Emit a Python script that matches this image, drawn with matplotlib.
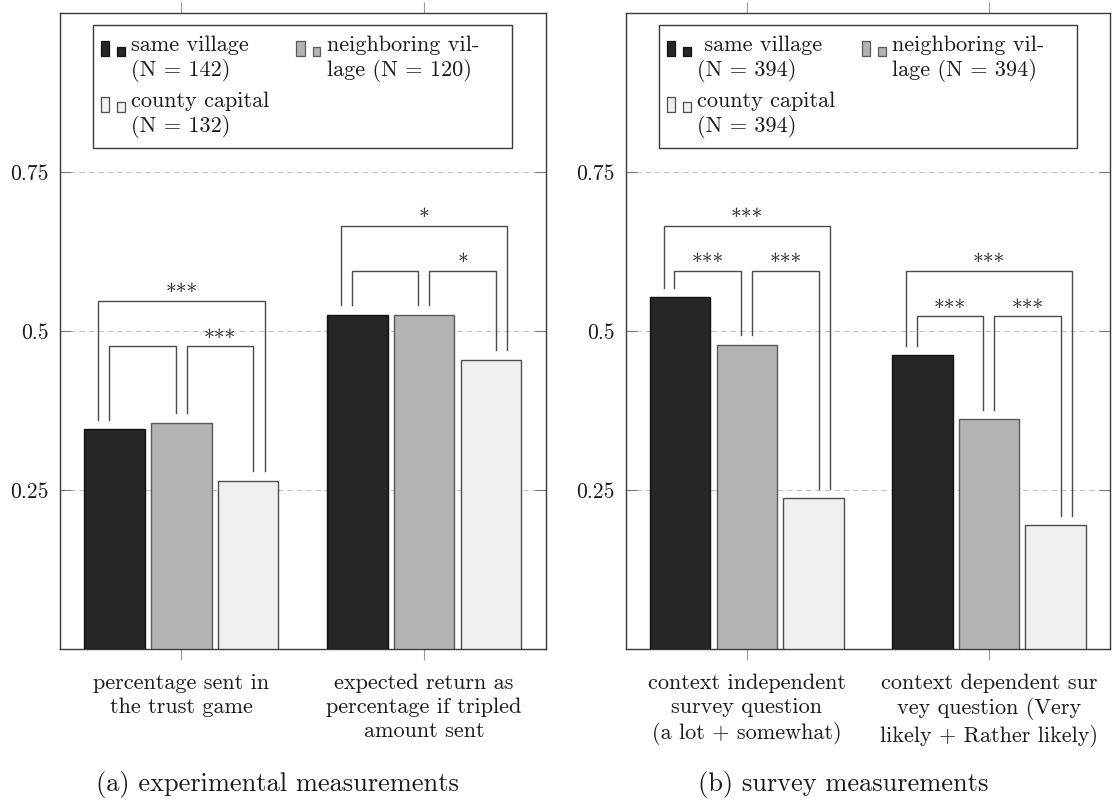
import numpy as np
import matplotlib
matplotlib.use("Agg")
import matplotlib.pyplot as plt
from matplotlib.patches import Rectangle

plt.rcParams['font.family'] = ['cmr10']
plt.rcParams['mathtext.fontset'] = 'cm'
plt.rcParams['axes.formatter.use_mathtext'] = True

# ---- data ----
colors = ["#262626", "#b3b3b3", "#f0f0f0"]
edges = ["#111111", "#5a5a5a", "#4d4d4d"]

labels_a = ["same village\n(N = 142)", "neighboring vil-\nlage (N = 120)", "county capital\n(N = 132)"]
labels_b = [" same village\n(N = 394)", "neighboring vil-\nlage (N = 394)", "county capital\n(N = 394)"]

groups_a = ["percentage sent in\nthe trust game",
            "expected return as\npercentage if tripled\namount sent"]
groups_b = ["context independent\nsurvey question\n(a lot + somewhat)",
            "context dependent sur\nvey question (Very\nlikely + Rather likely)"]

# one list per series (same village, neighboring village, county capital)
same_a = [0.345, 0.5245]
neigh_a = [0.355, 0.5245]
county_a = [0.264, 0.454]
same_b = [0.552, 0.461]
neigh_b = [0.4775, 0.3605]
county_b = [0.236, 0.1935]

# significance brackets: (group, bar i, bar j, level, stars)
brackets_a = [(0, 0, 2, 0.5465, "***"), (0, 0, 1, 0.475, ""), (0, 1, 2, 0.475, "***"),
              (1, 0, 2, 0.665, "*"), (1, 0, 1, 0.594, ""), (1, 1, 2, 0.594, "*")]
brackets_b = [(0, 0, 2, 0.665, "***"), (0, 0, 1, 0.594, "***"), (0, 1, 2, 0.594, "***"),
              (1, 0, 2, 0.594, "***"), (1, 0, 1, 0.5225, "***"), (1, 1, 2, 0.5225, "***")]

yticks = [0.25, 0.5, 0.75]
ytick_labels = ["0.25", "0.5", "0.75"]
captions = ["(a) experimental measurements", "(b) survey measurements"]

offsets = [-0.275, 0.0, 0.275]
width = 0.25
txt = "#1a1a1a"


def draw_panel(ax, values, groups, labels, brackets):
    x = np.arange(len(groups))
    for k, vals in enumerate(values):
        ax.bar(x + offsets[k], vals, width, color=colors[k], edgecolor=edges[k],
               linewidth=1.0, zorder=3)
    ax.set_xlim(-0.5, 1.5)
    ax.set_ylim(0, 1.0)
    ax.set_xticks(x)
    ax.set_xticklabels(groups, fontsize=16, color=txt, linespacing=1.3)
    ax.set_yticks(yticks)
    ax.set_yticklabels(ytick_labels, fontsize=15.5, color=txt)
    ax.tick_params(axis='x', direction='out', length=8, width=0.8, color='#9a9a9a',
                   top=True, bottom=True, pad=9)
    ax.tick_params(axis='y', direction='in', length=8, width=0.8, color='#7a7a7a',
                   left=True, right=True, pad=8)
    ax.grid(axis='y', color='#c4c4c4', linestyle=(0, (5, 3.5)), linewidth=0.8, zorder=0)
    for s in ax.spines.values():
        s.set_color('#3a3a3a')
        s.set_linewidth(1.0)

    # significance brackets
    for g, i, j, level, stars in brackets:
        ci = g + offsets[i]
        cj = g + offsets[j]
        if j - i == 2:
            xl, xr = ci - 0.068, cj + 0.068
        elif i == 0:
            xl, xr = ci - 0.024, cj - 0.024
        else:
            xl, xr = ci + 0.022, cj + 0.022
        yl = values[i][g] + 0.015
        yr = values[j][g] + 0.015
        ax.plot([xl, xl, xr, xr], [yl, level, level, yr], color='#4a4a4a',
                linewidth=1.0, zorder=4, solid_joinstyle='miter')
        if stars:
            ax.text((xl + xr) / 2, level + 0.004, stars, ha='center', va='baseline',
                    fontsize=15.5, color=txt)

    # legend: frame, two-bar handles, labels
    ax.add_patch(Rectangle((0.0678, 0.7866), 0.8642, 0.193, transform=ax.transAxes,
                           facecolor='white', edgecolor='#3a3a3a', linewidth=1.0, zorder=5))
    slots = [(0, 0), (1, 0), (0, 1)]   # (column, row)
    col_x = [0.0844, 0.487]
    row_bot = [0.9318, 0.8443]
    row_txt = [0.9292, 0.8414]
    for k, (c, r) in enumerate(slots):
        x0 = col_x[c]
        y0 = row_bot[r]
        ax.add_patch(Rectangle((x0, y0), 0.0172, 0.0235, transform=ax.transAxes,
                               facecolor=colors[k], edgecolor=edges[k], linewidth=0.9, zorder=6))
        ax.add_patch(Rectangle((x0 + 0.0336, y0), 0.0159, 0.0142, transform=ax.transAxes,
                               facecolor=colors[k], edgecolor=edges[k], linewidth=0.9, zorder=6))
        ax.text(x0 + 0.0626, row_txt[r], labels[k], transform=ax.transAxes, ha='left',
                va='center', fontsize=16, color=txt, linespacing=1.25, zorder=7)


fig = plt.figure(figsize=(11.12, 8.03), dpi=100)
ax_a = fig.add_axes([60 / 1112, 153.5 / 803, 485.5 / 1112, 636 / 803])
ax_b = fig.add_axes([625.7 / 1112, 153.5 / 803, 484.3 / 1112, 636 / 803])

draw_panel(ax_a, [same_a, neigh_a, county_a], groups_a, labels_a, brackets_a)
draw_panel(ax_b, [same_b, neigh_b, county_b], groups_b, labels_b, brackets_b)

fig.text(277.7 / 1112, 1 - 785 / 803, captions[0], ha='center', va='center',
         fontsize=19, color=txt)
fig.text(842.9 / 1112, 1 - 785 / 803, captions[1], ha='center', va='center',
         fontsize=19, color=txt)

fig.savefig("out.png", dpi=100)
